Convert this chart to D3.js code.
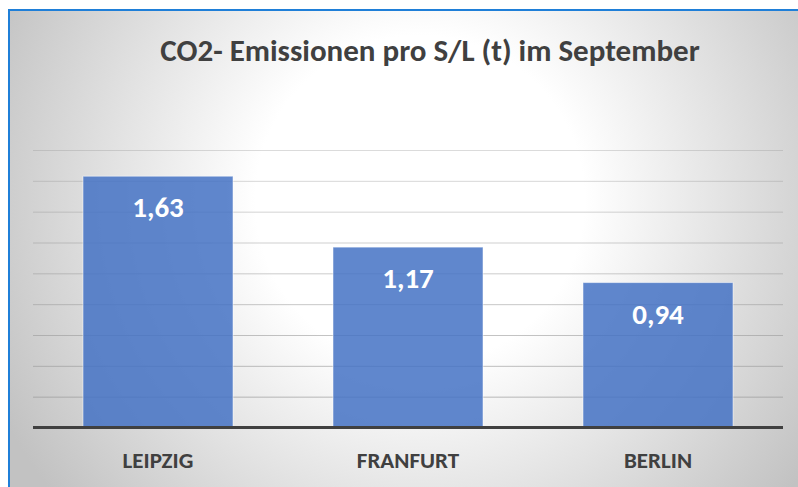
<!DOCTYPE html>
<html>
<head>
<meta charset="utf-8">
<script src="https://cdn.jsdelivr.net/npm/d3@7"></script>
<style>
  body { margin: 0; background: #fff; }
  svg { display: block; }
</style>
</head>
<body>
<script>
'use strict';

var categories = ["LEIPZIG", "FRANFURT", "BERLIN"];
var values = [1.63, 1.17, 0.94];
var valueLabels = ["1,63", "1,17", "0,94"];
var yTicks = [0, 0.2, 0.4, 0.6, 0.8, 1.0, 1.2, 1.4, 1.6, 1.8];
var titleText = "CO2- Emissionen pro S/L (t) im September";

var W = 798, H = 487;
var plot = { left: 33, right: 783, top: 150, bottom: 427.5 };
var font = "Carlito, Lato, 'Open Sans', sans-serif";

var svg = d3.select("body").append("svg")
   .attr("width", W)
   .attr("height", H);

// background gradient like the office chart area
var defs = svg.append("defs");
var grad = defs.append("radialGradient")
   .attr("id", "bg")
   .attr("gradientUnits", "userSpaceOnUse")
   .attr("cx", 420).attr("cy", 200).attr("r", 470);
grad.append("stop").attr("offset", "0%").attr("stop-color", "#ffffff");
grad.append("stop").attr("offset", "35%").attr("stop-color", "#ffffff");
grad.append("stop").attr("offset", "100%").attr("stop-color", "#c2c2c2");

svg.append("rect")
   .attr("x", 9).attr("y", 10)
   .attr("width", W - 9).attr("height", H - 10)
   .attr("fill", "url(#bg)");

// blue frame (only top and left show)
svg.append("path")
   .attr("d", "M9," + H + "V10H" + W)
   .attr("fill", "none")
   .attr("stroke", "#1f7fd8")
   .attr("stroke-width", 2);

var x = d3.scaleBand()
   .domain(categories)
   .range([plot.left, plot.right])
   .paddingInner(0.4)
   .paddingOuter(0.2);

var y = d3.scaleLinear()
   .domain([0, 1.8])
   .range([plot.bottom, plot.top]);

// gridlines
var grid = svg.append("g")
   .attr("transform", "translate(" + plot.left + ",0)")
   .call(d3.axisLeft(y)
      .tickValues(yTicks.slice(1))
      .tickSize(-(plot.right - plot.left))
      .tickFormat(""));
grid.select(".domain").remove();
grid.selectAll(".tick line")
   .attr("stroke", "#999999")
   .attr("stroke-opacity", function(d){ return 0.35 + 0.35 * (1.8 - d) / 1.8; })
   .attr("stroke-width", 1);

// bars
svg.selectAll("rect.bar")
   .data(values)
   .enter()
   .append("rect")
   .attr("class", "bar")
   .attr("x", function(d, i){ return x(categories[i]); })
   .attr("y", function(d){ return y(d); })
   .attr("width", x.bandwidth())
   .attr("height", function(d){ return y(0) - y(d); })
   .attr("fill", "#4472c4")
   .attr("fill-opacity", 0.85)
   .attr("stroke", "#ffffff")
   .attr("stroke-opacity", 0.5)
   .attr("stroke-width", 1);

// value labels
svg.selectAll("text.val")
   .data(values)
   .enter()
   .append("text")
   .attr("class", "val")
   .attr("x", function(d, i){ return x(categories[i]) + x.bandwidth() / 2; })
   .attr("y", function(d){ return y(d) + 41; })
   .attr("text-anchor", "middle")
   .attr("font-family", font)
   .attr("font-weight", "bold")
   .attr("font-size", 29)
   .attr("fill", "#ffffff")
   .text(function(d, i){ return valueLabels[i]; });

// x axis line + category labels
var xAxis = svg.append("g")
   .attr("transform", "translate(0," + plot.bottom + ")")
   .call(d3.axisBottom(x).tickSize(0).tickPadding(0));
xAxis.select(".domain")
   .attr("d", "M" + plot.left + ",0H" + plot.right)
   .attr("stroke", "#404040")
   .attr("stroke-width", 3);
xAxis.selectAll(".tick text")
   .attr("dy", null)
   .attr("y", 40)
   .attr("font-family", font)
   .attr("font-weight", "bold")
   .attr("font-size", 23)
   .attr("fill", "#404040");

// title
svg.append("text")
   .attr("x", 430)
   .attr("y", 61)
   .attr("text-anchor", "middle")
   .attr("font-family", font)
   .attr("font-weight", "bold")
   .attr("font-size", 31)
   .attr("fill", "#404040")
   .text(titleText);
</script>
</body>
</html>
